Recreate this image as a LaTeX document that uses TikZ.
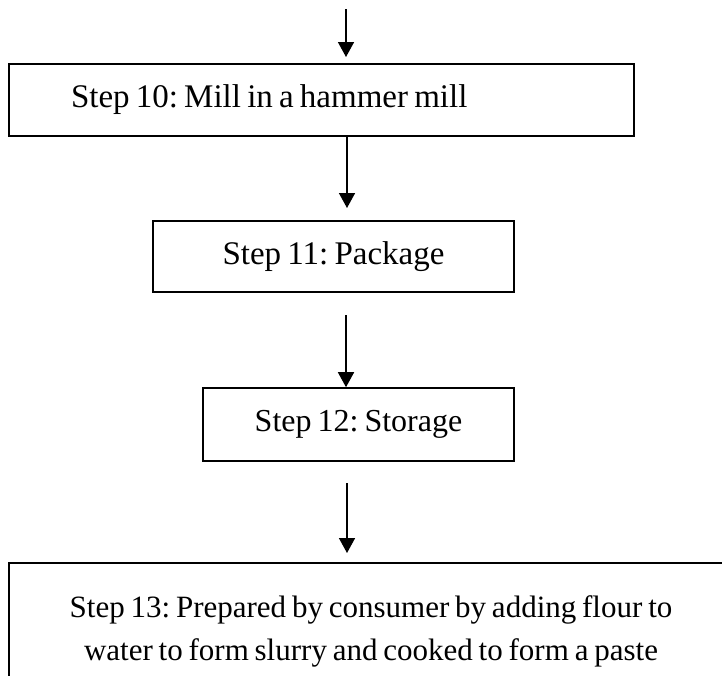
\documentclass[tikz,border=0pt]{standalone}
\usepackage{fontspec}
\setmainfont{Liberation Serif}[WordSpace=0.75]
\usetikzlibrary{arrows.meta}
\frenchspacing

\tikzset{
  stepbox/.style={draw=black, line width=1.6pt, rectangle, inner sep=0pt,
    font=\fontsize{32}{43}\selectfont\frenchspacing},
  bigtext/.style={font=\fontsize{33}{43}\selectfont\frenchspacing},
  flow/.style={line width=1.6pt, -{Triangle[width=16pt,length=15pt]}}
}

\begin{document}
\begin{tikzpicture}[x=1pt, y=-1pt]
  \useasboundingbox (0,0) rectangle (722,675);
  \clip (0,0) rectangle (722,675);

  % process steps
  \node[stepbox, bigtext, minimum width=625pt, minimum height=72pt, inner xsep=62pt] (b1) at (321.5,100)
        {\makebox[501pt][l]{Step 10: Mill in a hammer mill}};
  \node[stepbox, bigtext, minimum width=361pt, minimum height=71pt] (b2) at (333.5,256.5)
        {Step 11: Package};
  \node[stepbox, minimum width=311pt, minimum height=73pt] (b3) at (358.5,424.5)
        {Step 12: Storage};
  \node[stepbox, minimum width=724pt, minimum height=136pt, align=center,
        font=\fontsize{31}{43}\selectfont\frenchspacing] (b4) at (371,631)
        {Step 13: Prepared by consumer by adding flour to\\water to form slurry and cooked to form a paste};

  % free ends of the connectors
  \coordinate (in0) at (346,9);
  \coordinate (t1) at (346,57);
  \coordinate (t2) at (347,208);
  \coordinate (s3) at (346,315);
  \coordinate (s4) at (347,483);
  \coordinate (t4) at (347,553);

  % connectors
  \draw[flow] (in0) -- (t1);
  \draw[flow] (b1.south -| t2) -- (t2);
  \draw[flow] (s3) -- (s3 |- b3.north);
  \draw[flow] (s4) -- (t4);
\end{tikzpicture}
\end{document}
